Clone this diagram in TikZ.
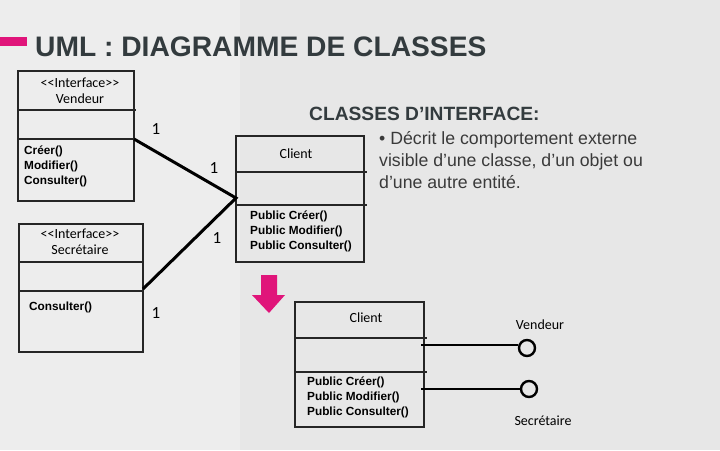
\documentclass[tikz,border=0pt]{standalone}
\usepackage{fontspec}
\setmainfont{Liberation Sans}
\newfontfamily\boxfont{Carlito}
\definecolor{pinkc}{HTML}{E0157A}
\definecolor{titlec}{HTML}{333B3E}
\definecolor{textc}{HTML}{3A3A3A}
\definecolor{bgleft}{HTML}{EDEDED}
\definecolor{bgright}{HTML}{E7E7E7}
\begin{document}
\begin{tikzpicture}[x=1pt,y=-1pt,
  boxline/.style={draw=black!85,line width=1.2pt},
  assoc/.style={draw=black,line width=3pt},
  mult/.style={font=\boxfont\fontsize{17}{17}\selectfont,inner sep=0pt},
  stereo/.style={font=\boxfont\fontsize{14}{14}\selectfont,inner sep=0pt,align=center},
  meth/.style={font=\bfseries\fontsize{11.8}{15}\selectfont,inner sep=0pt,align=left,anchor=north west},
  lolli/.style={draw=black,line width=2.6pt},
  ball/.style={circle,draw=black,line width=2.4pt,minimum size=16pt,inner sep=0pt,fill=bgright}]
\useasboundingbox (0,0) rectangle (720,450);
\fill[bgleft] (0,0) rectangle (240,450);
\fill[bgright] (240,0) rectangle (720,450);
% title
\fill[pinkc] (0,37) rectangle (27,46);
\node[anchor=west,inner sep=0pt,text=titlec,font=\bfseries\fontsize{28.2}{28}\selectfont] (title) at (35,47) {UML : DIAGRAMME DE CLASSES};
% Vendeur box
\draw[boxline] (18,71) rectangle (134,201);
\draw[boxline] (18,110) -- (136,110);
\draw[boxline] (18,139) -- (134,139);
\node[stereo] (vst) at (80,83) {<<Interface>>};
\node[stereo] (vname) at (80,99) {Vendeur};
\node[meth] (vmeth) at (24,146) {Créer()\\Modifier()\\Consulter()};
\coordinate (vend) at (134,139);
% Secretaire box
\draw[boxline] (19,224) rectangle (143,352);
\draw[boxline] (19,262) -- (144,262);
\draw[boxline] (19,291) -- (143,291);
\node[stereo] (sst) at (80,234) {<<Interface>>};
\node[stereo] (sname) at (80,250) {Secrétaire};
\node[meth] (smeth) at (29,302) {Consulter()};
\coordinate (send) at (143,289);
% Client box top
\draw[boxline] (236,136) rectangle (364,262);
\draw[boxline] (236,172) -- (367,172);
\draw[boxline] (236,205) -- (367,205);
\node[stereo] (cname) at (296,154) {Client};
\node[meth] (cmeth) at (250,211) {Public Créer()\\Public Modifier()\\Public Consulter()};
\coordinate (cjoin) at (236,198);
% associations
\draw[assoc,line join=miter] (vend) -- (cjoin) -- (send);
\node[mult] (m1) at (156,129) {1};
\node[mult] (m2) at (214,168) {1};
\node[mult] (m3) at (217,238) {1};
\node[mult] (m4) at (156,313) {1};
% heading and text
\node[anchor=west,inner sep=0pt,text=titlec,font=\bfseries\fontsize{19.2}{19.2}\selectfont] (head) at (309,114) {CLASSES D’INTERFACE:};
\node[anchor=north west,inner sep=0pt,text=textc,align=left,font=\fontsize{17.7}{22}\selectfont] (desc) at (379,131) {• Décrit le comportement externe\\visible d’une classe, d’un objet ou\\d’une autre entité.};
% pink arrow
\fill[pinkc] (261,275) -- (277,275) -- (277,295) -- (285,295) -- (269,313) -- (252,295) -- (261,295) -- cycle;
% Client box bottom
\draw[boxline] (295,302) rectangle (424,427);
\draw[boxline] (295,338) -- (427,338);
\draw[boxline] (295,372) -- (427,372);
\node[stereo] (c2name) at (366,318) {Client};
\node[meth] (c2meth) at (307,377) {Public Créer()\\Public Modifier()\\Public Consulter()};
% lollipops
\coordinate (l1) at (421,345);
\coordinate (l2) at (421,389);
\node[ball] (b1) at (527,348) {};
\node[ball] (b2) at (529,389) {};
\draw[lolli] (l1) -- (b1.west |- l1);
\draw[lolli] (l2) -- (b2.west);
\node[stereo] (lv) at (540,325) {Vendeur};
\node[stereo] (ls) at (543,421) {Secrétaire};
\end{tikzpicture}
\end{document}
